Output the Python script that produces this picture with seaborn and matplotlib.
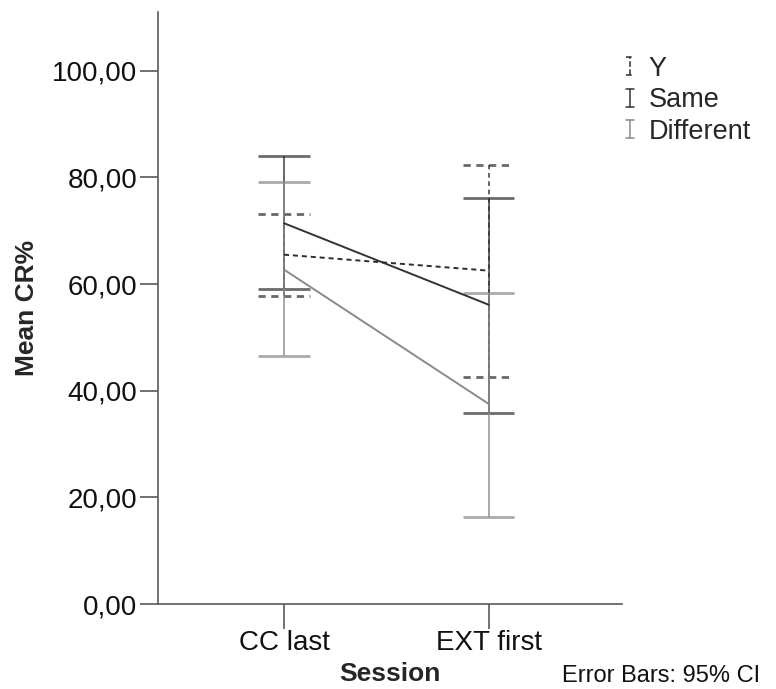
import matplotlib
matplotlib.use("Agg")
import matplotlib.pyplot as plt
from matplotlib.lines import Line2D
from matplotlib.legend_handler import HandlerBase
import seaborn as sns
import pandas as pd

# Session means with 95% confidence limits per group
sessions = ["CC last", "EXT first"]
groups = ["Y", "Same", "Different"]
y_mean = [65.5, 62.5]
y_low = [57.8, 42.6]
y_high = [73.2, 82.4]
same_mean = [71.4, 56.1]
same_low = [59.0, 35.8]
same_high = [84.0, 76.1]
diff_mean = [62.7, 37.5]
diff_low = [46.5, 16.4]
diff_high = [79.1, 58.4]
y_ticks = [0, 20, 40, 60, 80, 100]

means = {"Y": y_mean, "Same": same_mean, "Different": diff_mean}
lows = {"Y": y_low, "Same": same_low, "Different": diff_low}
highs = {"Y": y_high, "Same": same_high, "Different": diff_high}

df = pd.DataFrame(
    [(s, g, means[g][i]) for g in groups for i, s in enumerate(sessions)],
    columns=["Session", "Group", "CR"],
)

colors = {"Y": "#2e2e2e", "Same": "#333333", "Different": "#8a8a8a"}
styles = {"Y": (0, (2.6, 2.0)), "Same": "-", "Different": "-"}

sns.set_theme(style="white")
plt.rcParams["font.family"] = ["Liberation Sans", "DejaVu Sans"]

fig = plt.figure(figsize=(7.76, 6.89), dpi=100)
ax = fig.add_axes([158 / 776, 1 - 604 / 689, (622 - 158) / 776, (604 - 12) / 689])

# confidence-interval bars
cap = 0.125
for g in groups:
    for i in range(len(sessions)):
        ax.vlines(i, lows[g][i], highs[g][i], color=colors[g],
                  linestyle=styles[g], lw=1.3, zorder=2, alpha=0.8)
        ax.hlines([lows[g][i], highs[g][i]], i - cap, i + cap, color=colors[g],
                  linestyle=styles[g], lw=2.0, zorder=2, alpha=0.72)

# mean lines
sns.lineplot(data=df, x="Session", y="CR", hue="Group", hue_order=groups,
             palette=colors, ax=ax, legend=False, lw=1.4, zorder=3,
             sort=False)
for line, g in zip(ax.get_lines()[-3:], groups):
    line.set_linestyle(styles[g])

ax.set_xlim(-0.615, 1.65)
ax.set_ylim(0, 111)
ax.set_yticks(y_ticks)
ax.set_yticklabels([f"{v:.2f}".replace(".", ",") for v in y_ticks])
ax.set_xticks(range(len(sessions)))
ax.set_xticklabels(sessions)

for side in ["top", "right"]:
    ax.spines[side].set_visible(False)
for side in ["left", "bottom"]:
    ax.spines[side].set_color("#5a5a5a")
    ax.spines[side].set_linewidth(1.2)
ax.tick_params(axis="y", direction="out", length=13, width=1.2, color="#5a5a5a",
               labelsize=20, pad=2, left=True, labelcolor="#111111")
ax.tick_params(axis="x", direction="out", length=18, width=1.2, color="#5a5a5a",
               labelsize=20, pad=1, bottom=True, labelcolor="#111111")

ax.set_ylabel("Mean CR%", fontsize=19, fontweight="bold", labelpad=9)
ax.set_xlabel("Session", fontsize=19, fontweight="bold", labelpad=4)


class ErrorBarIcon(HandlerBase):
    def create_artists(self, legend, orig_handle, xdescent, ydescent,
                       width, height, fontsize, trans):
        cx = width / 2 - xdescent
        h = height * 0.95
        y0 = -ydescent + (height - h) / 2
        y1 = y0 + h
        w = width * 0.25
        kw = dict(color=orig_handle.get_color(),
                  linestyle=orig_handle.get_linestyle(), lw=1.1,
                  transform=trans)
        return [Line2D([cx, cx], [y0, y1], **kw),
                Line2D([cx - w, cx + w], [y0, y0], **kw),
                Line2D([cx - w, cx + w], [y1, y1], **kw)]


handles = [Line2D([], [], color=colors[g], linestyle=styles[g]) for g in groups]
fig.legend(handles, groups, handler_map={Line2D: ErrorBarIcon()},
           loc="upper left", bbox_to_anchor=(611 / 776, 1 - 45 / 689),
           frameon=False, fontsize=19.5, handlelength=0.6, handletextpad=0.4,
           labelspacing=0.2, borderaxespad=0)

fig.text(760 / 776, 1 - 676 / 689, "Error Bars: 95% CI", ha="right",
         va="center", fontsize=17, color="#111111")

fig.savefig("out.png", dpi=100)
